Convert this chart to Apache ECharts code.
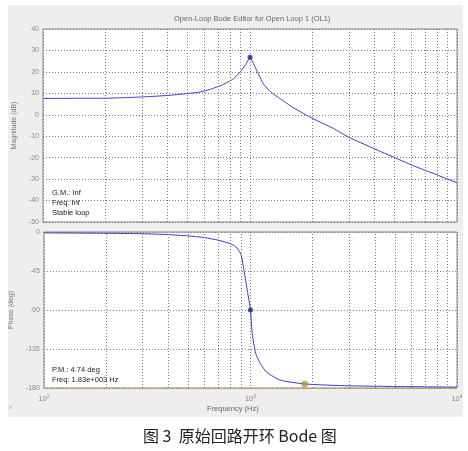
<!DOCTYPE html>
<html>
<head>
<meta charset="utf-8">
<script src="https://cdn.jsdelivr.net/npm/echarts@6/dist/echarts.min.js"></script>
<style>
  html, body { margin: 0; padding: 0; background: #fff; }
  #chart { width: 468px; height: 451px; }
</style>
</head>
<body>
<div id="chart"></div>
<script>
  // values: [frequency Hz, value]
  var magPoints = [
    [100, 7.6], [150, 7.7], [200, 7.7], [300, 8.3], [400, 9.0], [500, 9.9],
    [573, 10.6], [650, 12], [730, 13.8], [830, 16.7], [894, 19.8], [950, 23.2],
    [1000, 26.8], [1080, 20.5], [1160, 14.4], [1260, 10.6], [1400, 7.5], [1600, 3.6],
    [1940, -1], [2530, -6.4], [3000, -10.5], [4000, -15.9], [5000, -20],
    [6000, -23.3], [7000, -25.9], [8000, -28], [10000, -31.7]
  ]
  var phasePoints = [
    [100, -1], [200, -1.5], [300, -2], [400, -3], [500, -4.5], [600, -6.5],
    [700, -9.5], [800, -13.5], [850, -17], [900, -26], [930, -44], [960, -64],
    [1000, -90], [1020, -117], [1060, -140], [1117, -152], [1200, -162],
    [1400, -171], [1830, -175.3], [3000, -177.5], [10000, -179]
  ]
  var magMarker = [1000, 26.8]
  var phaseMarker = [1000, -90]
  var pmMarker = [1830, -175.3]
  var minorFreqs = [200, 300, 400, 500, 600, 700, 800, 900, 2000, 3000, 4000, 5000, 6000, 7000, 8000, 9000]
  var magTicks = { min: -50, max: 40, step: 10 }
  var phaseTicks = { min: -180, max: 0, step: 45 }

  var gridDot = { color: '#777', type: [1, 2], width: 1 }
  var tickFont = { color: '#888', fontSize: 7, fontFamily: 'Arial' }

  function minorLines (extra) {
    return {
      silent: true,
      symbol: 'none',
      label: { show: false },
      lineStyle: gridDot,
      data: minorFreqs.map(function (f) { return { xAxis: f } }).concat(extra || [])
    }
  }

  var chart = echarts.init(document.getElementById('chart'), null, { renderer: 'canvas' })
  var option = {
    animation: false,
    backgroundColor: '#fff',
    graphic: [
      { type: 'rect', z: -10, shape: { x: 8, y: 5, width: 455, height: 412 }, style: { fill: '#eeeeee' } },
      { type: 'text', x: 174, y: 15, style: { text: 'Open-Loop Bode Editor for Open Loop 1 (OL1)', fill: '#666', fontSize: 7.5, fontFamily: 'Arial' } },
      { type: 'text', x: 52, y: 188, z: 10, style: { text: 'G.M.: Inf\nFreq: Inf\nStable loop', fill: '#222', fontSize: 7.5, lineHeight: 10, fontFamily: 'Arial' } },
      { type: 'text', x: 52, y: 365, z: 10, style: { text: 'P.M.: 4.74 deg\nFreq: 1.83e+003 Hz', fill: '#222', fontSize: 7.5, lineHeight: 10, fontFamily: 'Arial' } },
      { type: 'text', x: 207, y: 405, style: { text: 'Frequency (Hz)', fill: '#666', fontSize: 7.5, fontFamily: 'Arial' } },
      { type: 'text', x: 9, y: 404, style: { text: 'x', fill: '#999', fontSize: 6, fontFamily: 'Arial' } },
      { type: 'text', x: 143, y: 428, style: { text: '图 3  原始回路开环 Bode 图', fill: '#222', fontSize: 16, fontFamily: 'Noto Sans CJK SC' } }
    ],
    grid: [
      { left: 43, top: 29, width: 414, height: 193, show: true, backgroundColor: '#fff', borderColor: '#888', borderWidth: 1 },
      { left: 43, top: 232, width: 414, height: 156, show: true, backgroundColor: '#fff', borderColor: '#888', borderWidth: 1 }
    ],
    xAxis: [
      {
        gridIndex: 0, type: 'log', logBase: 10, min: 100, max: 10000,
        axisLine: { show: false }, axisTick: { show: false }, axisLabel: { show: false },
        splitLine: { show: true, lineStyle: gridDot }
      },
      {
        gridIndex: 1, type: 'log', logBase: 10, min: 100, max: 10000,
        axisLine: { show: false }, axisTick: { show: false },
        splitLine: { show: true, lineStyle: gridDot },
        axisLabel: {
          margin: 6,
          formatter: function (v) { return '10{s|' + Math.round(Math.log10(v)) + '}' },
          color: '#888', fontSize: 7.5, fontFamily: 'Arial',
          rich: { s: { fontSize: 5, color: '#888', verticalAlign: 'top', padding: [0, 0, 5, 0] } }
        }
      }
    ],
    yAxis: [
      {
        gridIndex: 0, type: 'value', min: magTicks.min, max: magTicks.max, interval: magTicks.step,
        name: 'Magnitude (dB)', nameLocation: 'middle', nameGap: 20,
        nameTextStyle: { color: '#777', fontSize: 7, fontFamily: 'Arial' },
        axisLine: { show: false }, axisTick: { show: false },
        axisLabel: Object.assign({ margin: 4 }, tickFont),
        splitLine: { show: true, lineStyle: gridDot }
      },
      {
        gridIndex: 1, type: 'value', min: phaseTicks.min, max: phaseTicks.max, interval: phaseTicks.step,
        name: 'Phase (deg)', nameLocation: 'middle', nameGap: 24,
        nameTextStyle: { color: '#777', fontSize: 7, fontFamily: 'Arial' },
        axisLine: { show: false }, axisTick: { show: false },
        axisLabel: Object.assign({ margin: 4 }, tickFont),
        splitLine: { show: true, lineStyle: gridDot }
      }
    ],
    series: [
      {
        type: 'line', xAxisIndex: 0, yAxisIndex: 0, data: magPoints,
        smooth: 0.1, showSymbol: false, silent: true,
        lineStyle: { color: '#3b3bc4', width: 1 },
        markLine: minorLines()
      },
      {
        type: 'scatter', xAxisIndex: 0, yAxisIndex: 0, data: [magMarker],
        symbolSize: 5, itemStyle: { color: '#1f1f9e' }, z: 5
      },
      {
        type: 'line', xAxisIndex: 1, yAxisIndex: 1, data: phasePoints,
        smooth: 0.2, showSymbol: false, silent: true,
        lineStyle: { color: '#3b3bc4', width: 1 },
        markLine: minorLines([
          { yAxis: -180, lineStyle: { color: '#d49a2a', type: [4, 3], width: 1 } }
        ])
      },
      {
        type: 'scatter', xAxisIndex: 1, yAxisIndex: 1, data: [phaseMarker],
        symbolSize: 5, itemStyle: { color: '#1f1f9e' }, z: 5
      },
      {
        type: 'scatter', xAxisIndex: 1, yAxisIndex: 1, data: [pmMarker],
        symbolSize: 6, itemStyle: { color: '#c9962c', borderColor: '#8a6a20', borderWidth: 0.5 }, z: 5
      }
    ]
  }
  chart.setOption(option)
  window.addEventListener('resize', function () {
    chart.resize()
  })
</script>
</body>
</html>
